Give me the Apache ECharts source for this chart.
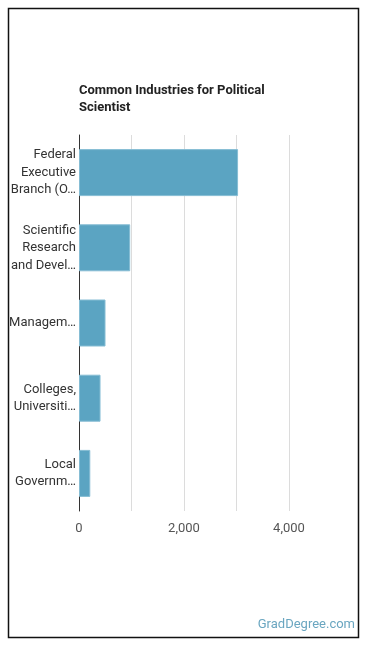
<!DOCTYPE html>
<html>
<head>
<meta charset="utf-8">
<script src="https://cdn.jsdelivr.net/npm/echarts@6/dist/echarts.min.js"></script>
<style>
  html, body { margin: 0; padding: 0; background: #fff; }
  #main { width: 370px; height: 648px; }
</style>
</head>
<body>
<div id="main"></div>
<script>
// industries, top to bottom
var categories = [
  'Federal\nExecutive\nBranch (O…',
  'Scientific\nResearch\nand Devel…',
  'Managem…',
  'Colleges,\nUniversiti…',
  'Local\nGovernm…'
];
var employed = [3030, 975, 505, 410, 215];
var tickLabels = ['0', '2,000', '4,000'];

var chart = echarts.init(document.getElementById('main'));

var option = {
  animation: false,
  title: {
    text: 'Common Industries for Political\nScientist',
    left: 74,
    top: 77,
    textStyle: {
      fontFamily: 'Roboto',
      fontSize: 13,
      fontWeight: 'bold',
      color: '#222',
      lineHeight: 17
    }
  },
  grid: {
    left: 79,
    right: 81,
    top: 135,
    bottom: 137
  },
  xAxis: {
    type: 'value',
    min: 0,
    max: 4000,
    interval: 1000,
    axisLine: { show: false },
    axisTick: { show: false },
    splitLine: { lineStyle: { color: '#dcdcdc', width: 1 } },
    axisLabel: {
      margin: 11,
      fontFamily: 'Roboto',
      fontSize: 13,
      color: '#555',
      formatter: function (v) {
        var i = v / 2000;
        return Number.isInteger(i) ? tickLabels[i] : '';
      }
    }
  },
  yAxis: {
    type: 'category',
    inverse: true,
    data: categories,
    axisLine: { lineStyle: { color: '#333', width: 1 } },
    axisTick: { show: false },
    axisLabel: {
      margin: 3,
      fontFamily: 'Roboto',
      fontSize: 13,
      color: '#333',
      lineHeight: 17.5,
      align: 'right'
    }
  },
  series: [{
    type: 'bar',
    data: employed,
    barWidth: 47,
    itemStyle: {
      color: '#5ba4c2',
      borderColor: '#86bdd4',
      borderWidth: 1
    }
  }],
  graphic: [
    {
      type: 'rect',
      shape: { x: 8.5, y: 8.5, width: 350, height: 629 },
      style: { fill: 'none', stroke: '#111', lineWidth: 1.5 }
    },
    {
      type: 'text',
      right: 15,
      top: 618,
      style: {
        text: 'GradDegree.com',
        fontFamily: 'Roboto',
        fontSize: 13,
        fill: '#6aa6c0'
      }
    }
  ]
};

chart.setOption(option);
</script>
</body>
</html>
